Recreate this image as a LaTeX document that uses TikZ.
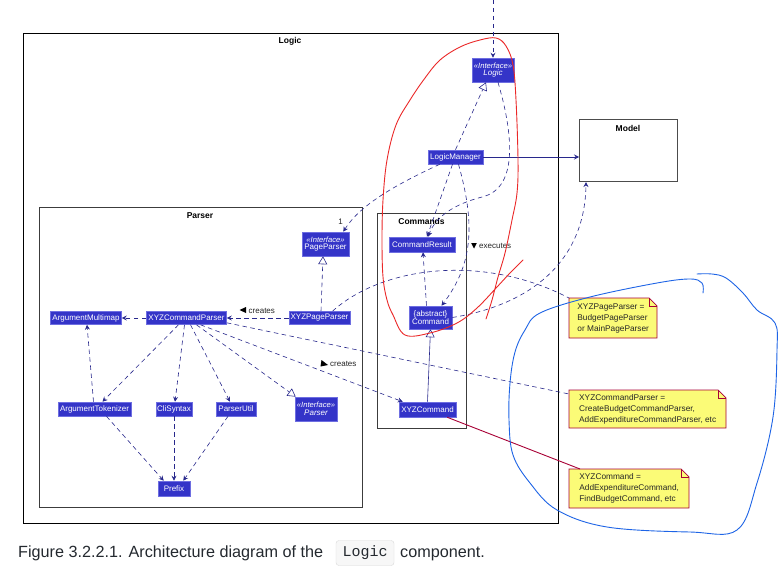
\documentclass[tikz,border=0pt]{standalone}
\usepackage{fontspec}
\setmainfont{Liberation Sans}
\setmonofont{Liberation Mono}
\usetikzlibrary{arrows.meta,calc}
\definecolor{clsfill}{RGB}{52,52,200}
\definecolor{clsborder}{RGB}{110,110,225}
\definecolor{arrowc}{RGB}{40,40,140}
\definecolor{notefill}{RGB}{251,251,119}
\definecolor{noteborder}{RGB}{168,0,54}
\definecolor{pkgborder}{RGB}{60,60,60}
\definecolor{redpen}{RGB}{235,40,40}
\definecolor{bluepen}{RGB}{30,100,230}
\definecolor{captext}{RGB}{36,41,47}
\newcommand{\stereo}[1]{{\fontsize{7.6}{8.5}\selectfont\itshape «#1»}}
\begin{document}
\begin{tikzpicture}[x=1pt,y=-1pt,
  clsbox/.style={fill=clsfill,draw=clsborder,line width=0.6pt,text=white,inner sep=0pt,
    font=\fontsize{8}{9}\selectfont,align=center},
  pkg/.style={draw=pkgborder,line width=1.1pt,inner sep=0pt,fill=none},
  pkgtitle/.style={font=\fontsize{8.5}{10}\selectfont\bfseries,inner sep=0pt},
  dep/.style={draw=arrowc,line width=0.6pt,dash pattern=on 4.5pt off 3.5pt,
    -{Stealth[length=5pt,width=5pt,inset=1.8pt]}},
  plainline/.style={draw=arrowc,line width=0.6pt,dash pattern=on 4.5pt off 3.5pt},
  real/.style={draw=arrowc,line width=0.6pt,dash pattern=on 4.5pt off 3.5pt,
    -{Triangle[open,length=8pt,width=9pt,fill=white]}},
  gen/.style={draw=arrowc,line width=0.6pt,-{Triangle[open,length=8pt,width=9pt,fill=white]}},
  solidarrow/.style={draw=arrowc,line width=0.6pt,-{Stealth[length=5pt,width=5pt,inset=1.8pt]}},
  lbl/.style={font=\fontsize{8}{9}\selectfont,inner sep=0pt,text=black!85},
  notetext/.style={font=\fontsize{8.3}{11}\selectfont,align=left,inner xsep=3.5pt,inner ysep=0pt,
    anchor=north west,text=black!85},
  notefold/.style={fill=notefill,draw=noteborder,line width=0.7pt},
  pen/.style={line width=0.9pt,line cap=round,line join=round}
]
\useasboundingbox (0,0) rectangle (778,575);
\fill[white] (0,0) rectangle (778,575);

% packages
\node[pkg,draw=black,minimum width=535pt,minimum height=490pt,anchor=north west] (logicpkg) at (23,33) {};
\node[pkgtitle] (logictitle) at (290,41) {Logic};
\node[pkg,minimum width=323pt,minimum height=300pt,anchor=north west] (parserpkg) at (39,207) {};
\node[pkgtitle] (parsertitle) at (200,215.5) {Parser};
\node[pkg,minimum width=89pt,minimum height=215pt,anchor=north west] (cmdpkg) at (377,212.5) {};
\node[pkgtitle] (cmdtitle) at (421.5,221) {Commands};
\node[pkg,draw=black!70,minimum width=98pt,minimum height=62pt,anchor=north west] (model) at (579,119) {};
\node[pkgtitle] (modeltitle) at (628,128) {Model};

% classes
\node[clsbox,minimum width=42pt,minimum height=24pt] (ilogic) at (493,70) {\stereo{Interface}\\[-1.5pt]\itshape Logic};
\node[clsbox,minimum width=55pt,minimum height=14pt] (lm) at (455.5,157) {LogicManager};
\node[clsbox,minimum width=47pt,minimum height=24pt] (ipp) at (325.5,244) {\stereo{Interface}\\[-1.5pt]PageParser};
\node[clsbox,minimum width=66pt,minimum height=15pt] (cres) at (422,244.5) {CommandResult};
\node[clsbox,minimum width=43pt,minimum height=23pt] (cmd) at (430.5,317.5) {\{abstract\}\\[-1pt]Command};
\node[clsbox,minimum width=61pt,minimum height=13pt] (xpp) at (319.5,318) {XYZPageParser};
\node[clsbox,minimum width=80pt,minimum height=13pt] (xcp) at (186.5,318) {XYZCommandParser};
\node[clsbox,minimum width=71pt,minimum height=13pt] (amm) at (86,318) {ArgumentMultimap};
\node[clsbox,minimum width=73pt,minimum height=14pt] (atok) at (94.5,409) {ArgumentTokenizer};
\node[clsbox,minimum width=36pt,minimum height=14pt] (cli) at (174,409) {CliSyntax};
\node[clsbox,minimum width=40pt,minimum height=14pt] (pu) at (236,409) {ParserUtil};
\node[clsbox,minimum width=42pt,minimum height=24pt] (ipar) at (316,409) {\stereo{Interface}\\[-1.5pt]\itshape Parser};
\node[clsbox,minimum width=57pt,minimum height=15pt] (xc) at (427.5,409.5) {XYZCommand};
\node[clsbox,minimum width=32pt,minimum height=15pt] (prefix) at (174,488.5) {Prefix};

% notes
\path[notefold] (569,298) -- (649,298) -- (657,306) -- (657,338) -- (569,338) -- cycle;
\draw[noteborder,line width=0.7pt] (649,298) -- (649,306) -- (657,306);
\node[notetext,minimum width=88pt,minimum height=40pt] (note1) at (569,298)
  {XYZPageParser =\\BudgetPageParser\\or MainPageParser};
\path[notefold] (569,390) -- (718,390) -- (726,398) -- (726,428) -- (569,428) -- cycle;
\draw[noteborder,line width=0.7pt] (718,390) -- (718,398) -- (726,398);
\node[notetext,minimum width=157pt,minimum height=38pt] (note2) at (569,390)
  {XYZCommandParser =\\CreateBudgetCommandParser,\\AddExpenditureCommandParser, etc};
\path[notefold] (569,469) -- (681,469) -- (689,477) -- (689,508) -- (569,508) -- cycle;
\draw[noteborder,line width=0.7pt] (681,469) -- (681,477) -- (689,477);
\node[notetext,minimum width=120pt,minimum height=39pt] (note3) at (569,469)
  {XYZCommand =\\AddExpenditureCommand,\\FindBudgetCommand, etc};

% connectors
\coordinate (topin) at (493,0);
\draw[dep] (topin) -- (ilogic.north);
\draw[real] (lm.north) -- ($(ilogic.south)+(-7,0)$);
\draw[solidarrow] (lm.east) -- (lm.east -| model.west);
\draw[dep] ($(ilogic.south)+(5,0)$) .. controls (512,130) and (520,188) .. (482,197)
  .. controls (455,204) and (436,216) .. ($(cres.north)+(6,0)$);
\draw[dep] ($(lm.south)+(-3,0)$) -- ($(cres.north)+(5,0)$);
\draw[dep] ($(lm.south)+(3,0)$) .. controls (474,220) and (475,262) .. ($(cmd.north)+(11,0)$);
\draw[dep] ($(lm.south west)+(12,0)$) .. controls (395,185) and (360,205) .. ($(ipp.north east)+(-6,0)$);
\draw[dep] ($(cmd.north)+(-4,0)$) -- ($(cres.south)+(1,0)$);
\draw[real] ($(xpp.north)+(1.5,0)$) -- ($(ipp.south)+(-2.5,0)$);
\draw[dep] (xpp.west) -- (xcp.east);
\draw[plainline] ($(xpp.north)+(13,0)$) .. controls (380,268) and (480,252) .. (note1.north west);
\draw[dep] (cmd.east) .. controls (530,305) and (585,262) .. ($(model.south west)+(7,0)$);
\draw[dep] (xcp.west) -- (amm.east);
\draw[dep] ($(xcp.south)+(-8,0)$) -- ($(atok.north)+(8,0)$);
\draw[dep] ($(xcp.south)+(-2,0)$) -- ($(cli.north)+(1,0)$);
\draw[dep] ($(xcp.south)+(4,0)$) -- ($(pu.north)+(-6,0)$);
\draw[real] ($(xcp.south)+(10,0)$) -- ($(ipar.north west)+(1,0)$);
\draw[dep] ($(xcp.south)+(14,0)$) -- ($(xc.north west)+(4,0)$);
\draw[plainline] ($(xcp.south east)+(0,-2)$) -- ($(note2.north west)+(0,4)$);
\draw[dep] ($(atok.north)+(-1,0)$) -- ($(amm.south)+(1,0)$);
\draw[dep] ($(atok.south)+(12,0)$) -- ($(prefix.north west)+(6,0)$);
\draw[dep] (cli.south) -- (prefix.north);
\draw[dep] ($(pu.south)+(-8,0)$) -- ($(prefix.north east)+(-7,0)$);
\draw[gen] (xc.north) -- (cmd.south);
\draw[noteborder,line width=0.9pt] ($(xc.south east)+(-9,0)$) -- ($(note3.north west)+(11,0)$);

% labels
\node[lbl] (onelbl) at (340.5,221.5) {1};
\fill[black] (239.5,310) -- (246,307) -- (246,313) -- cycle;
\node[lbl,anchor=west] (creates1) at (248.5,310.5) {creates};
\fill[black] (328,365) -- (321.5,360) -- (320.5,366.5) -- cycle;
\node[lbl,anchor=west] (creates2) at (330,364) {creates};
\fill[black] (474,248.5) -- (471.2,243) -- (476.8,243) -- cycle;
\node[lbl,anchor=west] (execlbl) at (479,246) {executes};

% freehand annotations
\draw[pen,redpen] plot[smooth,tension=0.6] coordinates {(486,319) (492,300) (498,277) (505,253) (512,220) (517,193) (518,160) (516,100) (513,65) (506,46) (496,38) (480,40) (460,47) (440,60) (425,78) (410,100) (396,125) (387,160) (383,200) (382,240) (383,277) (387,300) (393,315) (405,335) (430,333) (457,323) (477,308) (497,287) (510,273) (523,260)};
\draw[pen,bluepen] plot[smooth,tension=0.6] coordinates {(697,274) (712,274) (726,278) (743,293) (757,310) (775,323) (777,350) (773,417) (757,483) (737,530) (690,532) (607,527) (557,510) (530,483) (513,455) (509,420) (510,383) (515,352) (525,330) (540,313) (590,297) (657,283) (690,279) (702,283) (703,293)};

% caption
\node[anchor=base west,inner sep=0pt,font=\fontsize{16.2}{18}\selectfont,text=captext] (cap1) at (18,557.5) {Figure 3.2.2.1. Architecture diagram of the};
\node[draw=black!15,fill=black!3,rounded corners=3pt,minimum width=58pt,minimum height=25pt,inner sep=0pt,
  font=\ttfamily\fontsize{15}{17}\selectfont,text=captext] (capcode) at (365,553) {Logic};
\node[anchor=base west,inner sep=0pt,font=\fontsize{16.2}{18}\selectfont,text=captext] (cap2) at (400,557.5) {component.};
\end{tikzpicture}
\end{document}
